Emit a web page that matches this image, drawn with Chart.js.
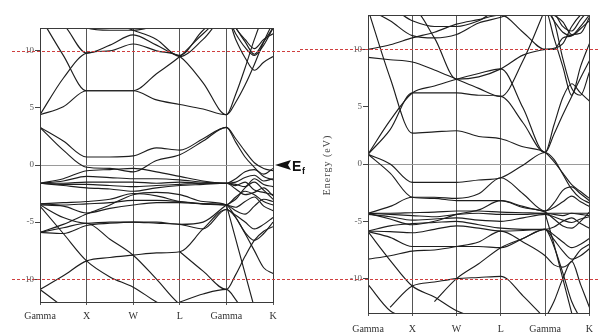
<!DOCTYPE html>
<html>
<head>
<meta charset="utf-8">
<script src="https://cdn.jsdelivr.net/npm/chart.js@4"></script>
<style>
  html, body { margin: 0; padding: 0; background: #fff; }
  #wrap { position: relative; width: 600px; height: 334px; overflow: hidden; background: #fff; }
  canvas { position: absolute; top: 0; }
  #leftPanel { left: 0; }
  #rightPanel { left: 300px; }
</style>
</head>
<body>
<div id="wrap">
  <canvas id="leftPanel" width="320" height="334"></canvas>
  <canvas id="rightPanel" width="300" height="334"></canvas>
</div>
<script>
// k-path sample positions (Gamma=0, X=1, W=2, L=3, Gamma=4, K=5)
const kPath = [0, 0.5, 1, 1.5, 2, 2.5, 3, 3.5, 4, 4.2, 4.4, 4.6, 4.8, 5];
const kLabels = ['Gamma', 'X', 'W', 'L', 'Gamma', 'K'];
const energyTicks = [-10, -5, 0, 5, 10];

// Left panel bands (eV), one value per kPath sample; null = not drawn
const leftBand01 = [4.4, 5.1, 6.5, 6.5, 6.5, 5.7, 5.3, 4.9, 4.4, 5.5, 7.0, 8.8, 10.8, 12.5];
const leftBand02 = [4.4, 7.6, 9.8, 10.0, 10.6, 10.0, 9.5, 7.2, 4.4, 6.2, 8.5, 11.0, 13.0, 13.5];
const leftBand03 = [13.0, 9.6, 6.5, 6.5, 6.5, 8.0, 9.5, 11.5, 13.0, 12.0, 10.8, 9.7, 10.8, 12.0];
const leftBand04 = [13.0, 12.3, 9.8, 10.5, 11.4, 10.5, 9.6, 11.8, 13.0, 11.5, 10.3, 9.6, 10.5, 12.0];
const leftBand05 = [13.5, 13.0, 12.0, 11.8, 11.8, 12.2, 12.6, 13.2, 13.5, 12.0, 11.0, 10.2, 11.0, 11.5];
const leftBand06 = [13.5, 13.5, 13.0, 12.5, 11.8, 11.0, 9.5, 11.0, 13.0, 11.0, 9.4, 8.3, 9.0, 9.5];
const leftBand07 = [3.3, 2.1, 0.7, 0.7, 0.8, 1.5, 1.3, 2.3, 3.3, 2.3, 1.2, 0.2, -0.3, -0.5];
const leftBand08 = [3.3, 1.3, -0.2, -0.3, -0.6, 0.4, 0.9, 2.1, 3.3, 2.0, 0.7, -0.2, -1.0, -1.3];
const leftBand09 = [-1.6, -1.2, -0.5, -0.4, -0.3, -0.6, -1.0, -1.4, -1.6, -1.2, -0.6, -0.4, -0.8, -0.3];
const leftBand10 = [-1.6, -1.4, -1.0, -1.1, -1.2, -1.2, -1.3, -1.5, -1.6, -1.5, -1.1, -0.9, -1.4, -1.2];
const leftBand11 = [-1.6, -1.6, -1.5, -1.5, -1.5, -1.6, -1.5, -1.6, -1.6, -1.7, -1.9, -1.2, -1.7, -1.9];
const leftBand12 = [-1.6, -1.7, -1.7, -1.8, -1.9, -1.8, -1.7, -1.6, -1.6, -1.8, -1.5, -2.2, -2.4, -2.6];
const leftBand13 = [-1.6, -1.8, -2.0, -2.1, -2.3, -2.0, -1.8, -1.7, -1.6, -2.1, -2.6, -2.4, -2.0, -2.7];
const leftBand14 = [-3.4, -3.3, -3.2, -3.0, -2.5, -2.7, -3.2, -3.4, -3.5, -2.8, -2.3, -2.6, -3.2, -3.5];
const leftBand15 = [-3.4, -3.5, -3.4, -3.3, -3.1, -3.1, -3.2, -3.4, -3.5, -3.7, -3.2, -2.8, -3.6, -4.0];
const leftBand16 = [-3.5, -3.6, -4.2, -3.8, -3.5, -3.3, -3.3, -3.4, -3.5, -4.0, -4.3, -3.6, -3.0, -3.2];
const leftBand17 = [-3.5, -4.6, -5.1, -5.0, -5.0, -5.1, -5.2, -5.6, -3.9, -4.4, -5.0, -5.6, -5.2, -4.6];
const leftBand18 = [-3.6, -6.0, -8.4, -9.8, -10.7, -12.0, -13.0, null, null, null, null, null, null, null];
const leftBand19 = [-5.9, -5.5, -5.1, -6.5, -7.9, -10.0, -12.2, -13.0, null, null, null, null, null, null];
const leftBand20 = [-5.9, -5.2, -4.3, -3.5, -2.6, -2.4, -2.6, -3.2, -3.5, -4.6, -5.9, -6.6, -6.0, -5.0];
const leftBand21 = [-10.9, -9.7, -8.4, -8.1, -7.9, -7.7, -7.6, -5.6, -3.9, -4.6, -6.0, -7.5, -9.0, -9.5];
const leftBand22 = [-10.9, -12.4, -13.5, null, null, null, -12.0, -11.3, -10.9, -11.8, -13.0, null, null, null];
const leftBand23 = [null, null, null, null, null, null, -7.6, -9.3, -10.9, -9.6, -8.0, -6.6, -5.8, -5.4];
const leftBand24 = [-5.9, -6.0, -5.3, -5.1, -5.0, -5.0, -5.2, -5.0, -3.5, -3.0, -2.0, -1.5, -2.2, -3.0];
const leftBand25 = [null, null, null, null, null, null, null, null, -3.5, -6.5, -9.5, -12.5, null, null];

// Right panel bands (eV)
const rightBand01 = [0.85, 3.0, 6.2, 6.2, 6.2, 6.0, 5.9, 3.6, 1.0, 2.6, 4.3, 5.9, 7.5, 9.0];
const rightBand02 = [0.85, 3.8, 6.2, 6.8, 7.4, 7.9, 8.3, 4.9, 1.0, 3.4, 5.8, 7.0, 6.2, 5.5];
const rightBand03 = [13.5, 7.5, 2.7, 2.8, 2.9, 2.4, 2.2, 1.5, 1.0, 0.2, -0.8, -1.8, -2.4, -3.0];
const rightBand04 = [10.0, 10.4, 11.0, 11.5, 12.2, 12.6, 13.0, 11.5, 10.0, 10.0, 11.0, 11.2, 12.0, 13.0];
const rightBand05 = [9.3, 9.1, 8.9, 8.2, 7.4, 6.6, 5.9, 9.0, 13.5, null, null, null, null, null];
const rightBand06 = [13.5, 12.5, 11.2, 11.0, 11.3, 12.3, 12.8, 13.5, 13.5, 12.5, 11.5, 11.2, 11.8, 12.5];
const rightBand07 = [13.5, 13.5, 12.5, 12.0, 12.0, 12.5, 13.5, 13.5, 13.5, 11.0, 8.5, 6.0, 8.5, 10.5];
const rightBand08 = [13.5, 13.5, 13.5, 11.0, 7.4, 7.6, 8.3, 9.5, 10.0, 10.1, 10.5, 12.0, 13.0, 13.5];
const rightBand09 = [0.85, 0.0, -1.6, -1.6, -1.6, -1.4, -1.2, -0.1, 1.0, 0.4, -0.9, -2.2, -3.0, -3.4];
const rightBand10 = [0.85, -0.8, -2.9, -3.0, -3.2, -3.2, -3.2, -3.7, -4.1, -3.4, -2.3, -2.0, -2.6, -3.2];
const rightBand11 = [-4.3, -3.7, -2.9, -2.9, -3.0, -2.6, -1.2, -2.6, -4.1, -3.8, -3.3, -2.8, -3.3, -3.7];
const rightBand12 = [-4.3, -4.3, -4.25, -4.2, -4.1, -4.1, -4.2, -4.25, -4.3, -4.3, -4.3, -4.3, -4.3, -4.3];
const rightBand13 = [-4.3, -4.4, -4.5, -4.6, -4.4, -4.3, -4.4, -4.4, -4.3, -4.4, -4.5, -4.3, -4.4, -4.5];
const rightBand14 = [-4.4, -4.6, -4.9, -4.8, -4.7, -4.9, -5.0, -4.7, -4.4, -4.6, -4.9, -5.1, -4.8, -4.6];
const rightBand15 = [-4.3, -4.8, -5.3, -5.0, -4.4, -4.0, -3.2, -3.8, -4.2, -4.8, -5.4, -5.6, -5.0, -4.2];
const rightBand16 = [-5.85, -5.4, -5.2, -5.1, -5.0, -5.3, -5.6, -5.7, -5.7, -5.5, -5.0, -4.7, -5.2, -5.6];
const rightBand17 = [-5.85, -5.9, -6.0, -5.7, -5.4, -5.6, -5.85, -5.8, -5.7, -6.2, -6.8, -7.3, -7.0, -6.5];
const rightBand18 = [-5.9, -6.4, -7.2, -7.2, -7.2, -7.2, -7.3, -6.5, -5.7, -6.6, -7.6, -8.3, -8.0, -7.4];
const rightBand19 = [-8.3, -8.0, -7.6, -7.5, -7.2, -6.8, -5.85, -6.8, -8.0, -8.8, -9.0, -8.5, -7.5, -7.0];
const rightBand20 = [-5.9, -8.4, -10.65, -11.6, -12.8, -13.5, null, null, null, null, null, null, null, null];
const rightBand21 = [-10.5, -12.8, -13.5, null, null, null, null, null, -13.5, -12.0, -10.0, -8.5, -10.5, -12.5];
const rightBand22 = [null, -12.5, -10.65, -10.3, -10.0, -9.9, -9.8, -11.5, -13.5, null, null, null, null, null];
const rightBand23 = [null, null, null, -12.0, -10.0, -8.7, -7.3, -6.5, -5.7, -7.2, -9.5, -12.0, -13.5, null];
const rightBand24 = [null, null, null, null, null, null, null, null, -4.3, -7.0, -10.0, -13.0, null, null];
const rightBand25 = [null, null, null, null, null, null, null, null, 13.5, 13.0, 12.4, 11.3, 11.4, 12.8];
const rightBand26 = [null, null, null, null, null, null, null, null, 13.5, 12.5, 9.2, 6.6, 6.0, 8.0];
const rightBand27 = [null, null, null, null, null, null, null, null, 13.5, 13.2, 12.0, 11.6, 12.6, 13.5];

const leftBands = [leftBand01, leftBand02, leftBand03, leftBand04, leftBand05, leftBand06, leftBand07,
  leftBand08, leftBand09, leftBand10, leftBand11, leftBand12, leftBand13, leftBand14, leftBand15,
  leftBand16, leftBand17, leftBand18, leftBand19, leftBand20, leftBand21, leftBand22, leftBand23,
  leftBand24, leftBand25];
const rightBands = [rightBand01, rightBand02, rightBand03, rightBand04, rightBand05, rightBand06,
  rightBand07, rightBand08, rightBand09, rightBand10, rightBand11, rightBand12, rightBand13,
  rightBand14, rightBand15, rightBand16, rightBand17, rightBand18, rightBand19, rightBand20,
  rightBand21, rightBand22, rightBand23, rightBand24, rightBand25, rightBand26, rightBand27];

const SERIF = "'Liberation Serif', 'DejaVu Serif', serif";

function bandDatasets(bands) {
  return bands.map(b => ({
    data: kPath.map((k, i) => ({ x: k, y: b[i] })),
    borderColor: '#1e1e1e',
    borderWidth: 1.15,
    pointRadius: 0,
    cubicInterpolationMode: 'monotone',
    spanGaps: false,
    fill: false
  }));
}

// Frame, Fermi-level rule and dashed +/-10 eV reference lines
const panelDecor = {
  id: 'panelDecor',
  beforeDatasetsDraw(chart, args, opts) {
    const { ctx, chartArea: a, scales: { y } } = chart;
    ctx.save();
    ctx.strokeStyle = '#9a9a9a';
    ctx.lineWidth = 1;
    const y0 = Math.round(y.getPixelForValue(0)) + 0.5;
    ctx.beginPath(); ctx.moveTo(a.left, y0); ctx.lineTo(a.right, y0); ctx.stroke();
    ctx.restore();
  },
  afterDatasetsDraw(chart, args, opts) {
    const { ctx, chartArea: a, scales: { y } } = chart;
    ctx.save();
    ctx.strokeStyle = '#3a3a3a';
    ctx.lineWidth = 1;
    ctx.strokeRect(Math.round(a.left) + 0.5, Math.round(a.top) + 0.5,
      Math.round(a.right - a.left), Math.round(a.bottom - a.top));
    ctx.strokeStyle = '#cf3f3f';
    ctx.setLineDash([3, 2]);
    [10, -10].forEach(v => {
      const py = Math.round(y.getPixelForValue(v)) + 0.5;
      ctx.beginPath(); ctx.moveTo(opts.redFrom, py); ctx.lineTo(opts.redTo, py); ctx.stroke();
    });
    ctx.setLineDash([]);
    if (opts.fermi) {
      const py = y.getPixelForValue(0);
      ctx.fillStyle = '#111';
      ctx.beginPath();
      ctx.moveTo(275, py);
      ctx.lineTo(291, py - 5);
      ctx.lineTo(288, py);
      ctx.lineTo(291, py + 5);
      ctx.closePath();
      ctx.fill();
      ctx.font = "bold 14px 'Liberation Sans', Arial, sans-serif";
      ctx.textBaseline = 'alphabetic';
      ctx.fillText('E', 292, py + 6);
      ctx.font = "bold 9px 'Liberation Sans', Arial, sans-serif";
      ctx.fillText('f', 302, py + 9);
    }
    if (opts.yTitle) {
      ctx.fillStyle = '#444';
      ctx.font = "10px " + SERIF;
      ctx.letterSpacing = '1px';
      ctx.translate(opts.yTitle.x, opts.yTitle.y);
      ctx.rotate(-Math.PI / 2);
      ctx.textAlign = 'center';
      ctx.textBaseline = 'middle';
      ctx.fillText('Energy (eV)', 0, 0);
    }
    ctx.restore();
  }
};

function makePanel(id, bands, yMin, yMax, geo, decor) {
  return new Chart(document.getElementById(id), {
    type: 'line',
    data: { datasets: bandDatasets(bands) },
    options: {
      responsive: false,
      animation: false,
      devicePixelRatio: 1,
      layout: { padding: { left: 0, right: geo.right, top: geo.top, bottom: 0 } },
      plugins: { legend: { display: false }, tooltip: { enabled: false }, panelDecor: decor },
      scales: {
        x: {
          type: 'linear', min: 0, max: 5,
          afterBuildTicks: ax => { ax.ticks = kLabels.map((_, i) => ({ value: i })); },
          afterFit: ax => { ax.height = geo.xHeight; },
          ticks: {
            callback: v => kLabels[v],
            font: { family: SERIF, size: 10 },
            color: '#333',
            padding: geo.xPad,
            maxRotation: 0, autoSkip: false
          },
          grid: { color: '#555', lineWidth: 1, tickLength: 3, drawOnChartArea: true },
          border: { display: true, color: '#3a3a3a' }
        },
        y: {
          type: 'linear', min: yMin, max: yMax,
          afterBuildTicks: ax => { ax.ticks = energyTicks.map(v => ({ value: v })); },
          afterFit: ax => { ax.width = geo.yWidth; },
          ticks: {
            callback: v => String(v),
            font: { family: SERIF, size: 9 },
            color: '#555',
            padding: 1
          },
          grid: { drawOnChartArea: false, drawTicks: true, tickLength: 5, color: '#444' },
          border: { display: true, color: '#3a3a3a' }
        }
      }
    },
    plugins: [panelDecor]
  });
}

// left canvas is 320 wide so the E_f marker can run past x = 300; the ruled area stays 40..273
makePanel('leftPanel', leftBands, -12, 12,
  { right: 47, top: 28, xHeight: 32, yWidth: 40, xPad: 5 },
  { redFrom: 12, redTo: 300, fermi: true });

makePanel('rightPanel', rightBands, -13, 13,
  { right: 4, top: 15, xHeight: 21, yWidth: 68, xPad: 7 },
  { redFrom: 0, redTo: 300, fermi: false, yTitle: { x: 27, y: 165 } });
</script>
</body>
</html>
